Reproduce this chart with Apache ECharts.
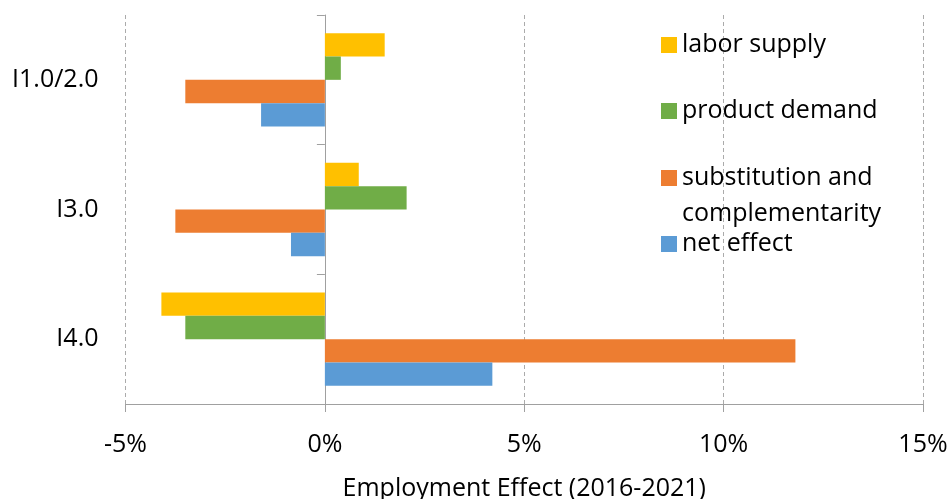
<!DOCTYPE html>
<html>
<head>
<meta charset="utf-8">
<script src="https://cdn.jsdelivr.net/npm/echarts@6/dist/echarts.min.js"></script>
<style>
  html, body { margin: 0; padding: 0; background: #fff; }
  #chart { width: 951px; height: 499px; }
</style>
</head>
<body>
<div id="chart"></div>
<script>
const categories = ['I1.0/2.0', 'I3.0', 'I4.0'];
const laborSupply = [1.5, 0.85, -4.1];
const productDemand = [0.4, 2.05, -3.5];
const substitution = [-3.5, -3.75, 11.8];
const netEffect = [-1.6, -0.85, 4.2];
const seriesNames = ['labor supply', 'product demand', 'substitution and complementarity', 'net effect'];
const xTicks = { min: -5, max: 15, step: 5 };
const xTitle = 'Employment Effect (2016-2021)';

const FONT = 'Open Sans';
const FS = 25;
const axisColor = '#a0a0a0';
const colors = ['#FFC000', '#70AD47', '#ED7D31', '#5B9BD5'];

const chart = echarts.init(document.getElementById('chart'), null, { renderer: 'canvas' });

function legendFor(i, top) {
  return {
    data: [seriesNames[i]],
    left: 661,
    top: top,
    padding: 0,
    icon: 'rect',
    itemWidth: 16,
    itemHeight: 16,
    selectedMode: false,
    formatter: function (n) {
      return n === 'substitution and complementarity' ? '\u00a0\nsubstitution and\ncomplementarity' : n;
    },
    textStyle: { fontFamily: FONT, fontSize: FS, color: '#000', lineHeight: 36 }
  };
}

const dataSets = [laborSupply, productDemand, substitution, netEffect];

chart.setOption({
  animation: false,
  color: colors,
  textStyle: { fontFamily: FONT },
  grid: { left: 125.5, right: 28, top: 15, bottom: 95, containLabel: false, outerBoundsMode: 'none' },
  legend: [
    legendFor(0, 27),
    legendFor(1, 93),
    legendFor(2, 124),
    legendFor(3, 226)
  ],
  xAxis: {
    type: 'value',
    min: xTicks.min,
    max: xTicks.max,
    interval: xTicks.step,
    name: xTitle,
    nameLocation: 'middle',
    nameGap: 72,
    nameTextStyle: { fontFamily: FONT, fontSize: FS, color: '#000' },
    axisLine: { show: true, lineStyle: { color: axisColor, width: 1 } },
    axisTick: { show: true, length: 8, lineStyle: { color: axisColor } },
    axisLabel: { formatter: '{value}%', fontFamily: FONT, fontSize: FS, color: '#000', margin: 28 },
    splitLine: { show: true, lineStyle: { color: '#ababab', type: [4, 3], width: 1 } }
  },
  yAxis: [
    {
      type: 'category',
      data: categories,
      inverse: true,
      axisLine: { show: true, onZero: true, lineStyle: { color: axisColor, width: 1 } },
      axisTick: { show: true, length: 8, lineStyle: { color: axisColor } },
      axisLabel: { show: false },
      splitLine: { show: false }
    },
    {
      type: 'category',
      data: categories,
      inverse: true,
      position: 'left',
      axisLine: { show: false, onZero: false },
      axisTick: { show: false },
      axisLabel: { show: true, margin: 27, fontFamily: FONT, fontSize: FS, color: '#000' },
      splitLine: { show: false }
    }
  ],
  series: seriesNames.map(function (name, i) {
    return {
      name: name,
      type: 'bar',
      yAxisIndex: 0,
      data: dataSets[i],
      barGap: '0%',
      barCategoryGap: '28%',
      itemStyle: { color: colors[i] }
    };
  })
});
</script>
</body>
</html>
